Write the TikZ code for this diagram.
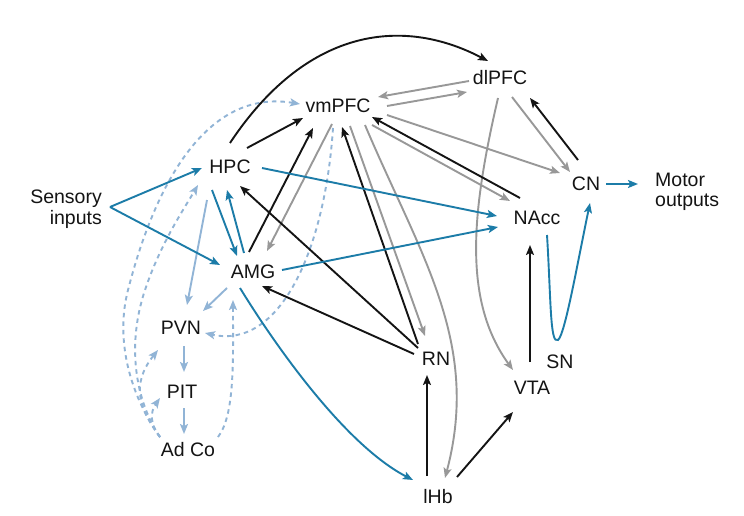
\documentclass[tikz,border=0pt]{standalone}
\usepackage{fontspec}
\setmainfont{Liberation Sans}
\usetikzlibrary{arrows.meta,calc}
\definecolor{cblue}{RGB}{28,124,168}
\definecolor{lblue}{RGB}{145,180,214}
\definecolor{cgray}{RGB}{152,152,152}
\definecolor{cblack}{RGB}{20,20,20}
\begin{document}
\begin{tikzpicture}[x=1pt,y=-1pt,
  lbl/.style={inner sep=0pt, text height=13.8pt, text depth=0pt, font=\fontsize{19.5}{20}\selectfont, text=cblack},
  mlbl/.style={inner sep=0pt, font=\fontsize{19.5}{20.5}\selectfont, text=cblack},
  con/.style={line width=1.9pt, -{Stealth[length=10pt,width=8pt,inset=2.2pt]}},
  bl/.style={con, draw=cblue},
  bk/.style={con, draw=cblack},
  gr/.style={con, draw=cgray},
  lb/.style={con, draw=lblue},
  lbd/.style={con, draw=lblue, dash pattern=on 4.5pt off 4pt}
]
\fill[white] (0,0) rectangle (744,516);
\useasboundingbox (0,0) rectangle (744,516);

% nodes
\node[lbl] (HPC) at (230,167) {HPC};
\node[lbl] (vmPFC) at (338,106) {vmPFC};
\node[lbl] (dlPFC) at (500,78) {dlPFC};
\node[lbl] (CN) at (586,184) {CN};
\node[lbl] (NAcc) at (537,218) {NAcc};
\node[lbl] (AMG) at (253,272) {AMG};
\node[lbl] (PVN) at (181,328) {PVN};
\node[lbl] (PIT) at (182,392) {PIT};
\node[lbl] (AdCo) at (188,450) {Ad Co};
\node[lbl] (RN) at (436,359) {RN};
\node[lbl] (SN) at (560,362) {SN};
\node[lbl] (VTA) at (532,388) {VTA};
\node[lbl] (lHb) at (438,497) {lHb};
\node[mlbl, align=right, anchor=east] (sens) at (102,209) {Sensory\\inputs};
\node[mlbl, align=left, anchor=west] (motor) at (655,192) {Motor\\outputs};
\coordinate (s) at ($(sens.east)+(8,-2)$);

% light blue dashed
\draw[lbd] ($(AdCo)+(-28,-13)$) .. controls (130,395) and (115,340) .. (128,290)
   .. controls (141,240) and (185,85) .. ($(vmPFC)+(-38,-2)$);
\draw[lbd] ($(AdCo)+(-28,-13)$) .. controls (138,405) and (125,350) .. (145,290)
   .. controls (160,245) and (182,212) .. ($(HPC)+(-32,18)$);
\draw[lbd] ($(AdCo)+(-28,-13)$) .. controls (140,410) and (130,385) .. ($(PVN)+(-23,22)$);
\draw[lbd] ($(AdCo)+(-28,-13)$) .. controls (150,425) and (150,412) .. ($(PIT)+(-22,6)$);
\draw[lbd] ($(AdCo)+(30,-13)$) .. controls (235,415) and (233,360) .. ($(AMG)+(-20,28)$);
\draw[lbd] ($(vmPFC)+(-5,22)$) .. controls (325,250) and (280,350) .. ($(PVN)+(24,5)$);

% light blue solid
\draw[lb] ($(HPC)+(-23,33)$) -- ($(PVN)+(6,-23)$);
\draw[lb] ($(AMG)+(-26,16)$) -- ($(PVN)+(22,-17)$);
\draw[lb] ($(PVN)+(3,18)$) -- ($(PIT)+(2,-20)$);
\draw[lb] ($(PIT)+(2,16)$) -- ($(AdCo)+(-4,-16)$);

% gray
\draw[gr] ($(dlPFC)+(-31,3)$) -- ($(vmPFC)+(40,-9)$);
\draw[gr] ($(vmPFC)+(49,0)$) -- ($(dlPFC)+(-33,14)$);
\draw[gr] ($(vmPFC)+(-6,18)$) -- ($(AMG)+(14,-21)$);
\draw[gr] ($(vmPFC)+(12,20)$) -- ($(RN)+(-11,-23)$);
\draw[gr] ($(vmPFC)+(27,19)$) .. controls (420,255) and (481,342) .. ($(lHb)+(7,-19)$);
\draw[gr] ($(vmPFC)+(34,19)$) -- ($(NAcc)+(-27,-17)$);
\draw[gr] ($(vmPFC)+(49,9)$) -- ($(CN)+(-26,-11)$);
\draw[gr] ($(dlPFC)+(12,19)$) -- ($(CN)+(-16,-12)$);
\draw[gr] ($(dlPFC)+(-2,20)$) .. controls (472,210) and (462,300) .. ($(VTA)+(-19,-18)$);

% black
\draw[bk] ($(HPC)+(0,-24)$) .. controls (305,30) and (400,15) .. ($(dlPFC)+(-12,-17)$);
\draw[bk] ($(HPC)+(17,-19)$) -- ($(vmPFC)+(-35,12)$);
\draw[bk] ($(AMG)+(-4,-20)$) -- ($(vmPFC)+(-25,22)$);
\draw[bk] ($(RN)+(-18,-15)$) -- ($(vmPFC)+(4,21)$);
\draw[bk] ($(NAcc)+(-17,-20)$) -- ($(vmPFC)+(34,11)$);
\draw[bk] ($(CN)+(-8,-24)$) -- ($(dlPFC)+(30,20)$);
\draw[bk] ($(VTA)+(-2,-26)$) -- ($(NAcc)+(-7,27)$);
\draw[bk] ($(lHb)+(-11,-21)$) -- ($(RN)+(-9,16)$);
\draw[bk] ($(lHb)+(19,-20)$) -- ($(VTA)+(-19,24)$);
\draw[bk] ($(RN)+(-18,-11)$) -- ($(HPC)+(10,19)$);
\draw[bk] ($(RN)+(-22,-5)$) -- ($(AMG)+(9,14)$);

% blue
\draw[bl] (s) -- ($(HPC)+(-28,1)$);
\draw[bl] (s) -- ($(AMG)+(-33,-7)$);
\draw[bl] ($(HPC)+(-18,23)$) -- ($(AMG)+(-16,-16)$);
\draw[bl] ($(AMG)+(-9,-19)$) -- ($(HPC)+(-3,23)$);
\draw[bl] ($(HPC)+(32,1)$) -- ($(NAcc)+(-40,-2)$);
\draw[bl] ($(AMG)+(29,-2)$) -- ($(NAcc)+(-39,9)$);
\draw[bl] ($(AMG)+(-13,16)$) .. controls (275,345) and (345,445) .. ($(lHb)+(-25,-17)$);
\draw[bl] ($(NAcc)+(10,17)$) .. controls (551,300) and (550,345) .. (558,340)
   .. controls (565,335) and (578,260) .. ($(CN)+(4,19)$);
\draw[bl] ($(CN)+(20,0)$) -- ($(motor.west)+(-17,-8)$);
\end{tikzpicture}
\end{document}
